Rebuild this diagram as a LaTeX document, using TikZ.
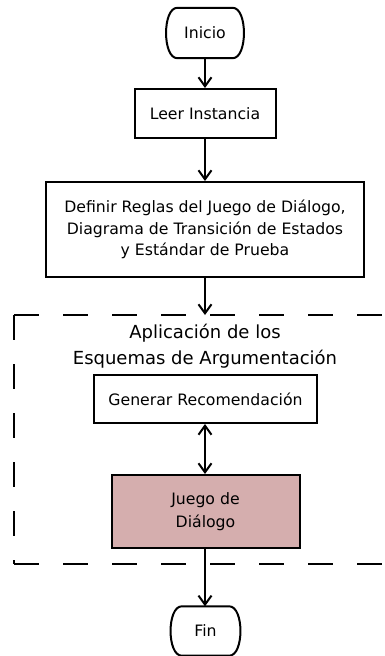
\documentclass[tikz,border=0pt]{standalone}
\usepackage{fontspec}
\setmainfont{DejaVu Sans}
\usetikzlibrary{arrows.meta}
\definecolor{juegofill}{RGB}{213,174,174}
\tikzset{
  box/.style={draw=black, line width=2pt, rectangle, align=center, inner sep=0pt,
    font=\fontsize{15.7}{21.5}\selectfont},
  term/.style={rectangle, inner sep=0pt, align=center, font=\fontsize{15.7}{21.5}\selectfont},
  flow/.style={line width=2pt, -{Straight Barb[length=9pt,width=13pt,line width=2pt]}},
  dflow/.style={line width=2pt, {Straight Barb[length=9pt,width=13pt,line width=2pt]}-{Straight Barb[length=9pt,width=13pt,line width=2pt]}},
  frame/.style={line width=2pt, dash pattern=on 25pt off 24pt},
  termline/.style={line width=2pt}
}
\begin{document}
\begin{tikzpicture}[x=1pt,y=-1pt]
\useasboundingbox (0,0) rectangle (384,656);

% terminals
\node[term, minimum width=77pt, minimum height=50pt] (inicio) at (205,33) {Inicio};
\node[term, minimum width=69pt, minimum height=49pt] (fin) at (205.5,631) {Fin};
\foreach \n in {inicio,fin}{
  \draw[termline] ([xshift=11pt]\n.north west) -- ([xshift=-11pt]\n.north east)
    .. controls ([xshift=4pt]\n.north east) and ([xshift=4pt]\n.south east) .. ([xshift=-11pt]\n.south east)
    -- ([xshift=11pt]\n.south west)
    .. controls ([xshift=-4pt]\n.south west) and ([xshift=-4pt]\n.north west) .. cycle;
}

% boxes
\node[box, minimum width=141pt, minimum height=49pt] (leer) at (205,113.5) {Leer Instancia};
\node[box, minimum width=318pt, minimum height=95pt] (definir) at (205,229.5)
  {Definir Reglas del Juego de Diálogo,\\Diagrama de Transición de Estados\\y Estándar de Prueba};
\node[box, minimum width=223pt, minimum height=48pt] (generar) at (205.5,399) {Generar Recomendación};
\node[box, fill=juegofill, minimum width=188pt, minimum height=73pt] (juego) at (205.5,511.5)
  {Juego de\\[2pt]Diálogo};

% dashed region
\coordinate (ftl) at (14,315);
\coordinate (fbl) at (14,564);
\coordinate (ftr) at (400,315);
\coordinate (fbr) at (400,564);
\draw[frame] (ftl) -- (ftr);
\draw[frame] (ftl) -- (fbl);
\draw[frame] (fbl) -- (fbr);
\node[align=center, inner sep=0pt, font=\fontsize{18}{26}\selectfont] (titulo) at (205,346)
  {Aplicación de los\\Esquemas de Argumentación};
\coordinate (dtop) at (205,315);

% connectors
\draw[flow] (inicio) -- (leer);
\draw[flow] (leer) -- (definir);
\draw[flow] (definir.south -| dtop) -- (dtop);
\draw[dflow] (generar.south -| dtop) -- (juego.north -| dtop);
\draw[flow] (juego.south -| dtop) -- (fin.north -| dtop);
\end{tikzpicture}
\end{document}
